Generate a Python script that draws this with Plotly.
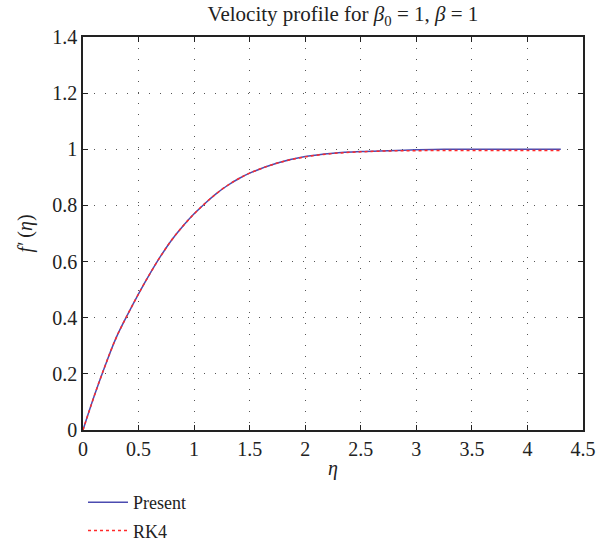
import plotly.graph_objects as go

eta = [0, 0.1, 0.2, 0.3, 0.4, 0.5, 0.6, 0.7, 0.8, 0.9, 1.0, 1.1, 1.2, 1.3,
       1.4, 1.5, 1.75, 2.0, 2.25, 2.5, 2.75, 3.0, 3.25, 3.5, 3.75, 4.0, 4.3]
present = [0, 0.12, 0.23, 0.33, 0.41, 0.485, 0.555, 0.62, 0.678, 0.727,
           0.77, 0.808, 0.842, 0.871, 0.895, 0.915, 0.951, 0.974, 0.986,
           0.992, 0.995, 0.998, 1.0, 1.0, 1.0, 1.0, 1.0]
rk4 = [0, 0.12, 0.23, 0.33, 0.41, 0.485, 0.555, 0.62, 0.678, 0.727,
       0.77, 0.808, 0.842, 0.871, 0.895, 0.915, 0.951, 0.973, 0.985,
       0.991, 0.994, 0.995, 0.996, 0.996, 0.996, 0.996, 0.996]

font = "Liberation Serif, Times New Roman, serif"

W, H = 607, 549
M_L, M_R, M_T, M_B = 83, 24, 37, 0
PLOT_BOTTOM = 430
paper_h = H - M_T - M_B
y_dom0 = (H - M_B - PLOT_BOTTOM) / paper_h

fig = go.Figure()
fig.add_trace(go.Scatter(x=eta, y=present, mode="lines", name="Present", legendgroup="a",
                         line=dict(color="#4b4bb0", width=1.5, shape="spline")))
fig.add_trace(go.Scatter(x=eta, y=rk4, mode="lines", name="RK4", legendgroup="b",
                         line=dict(color="#ff2a2a", width=1.5, dash="dot", shape="spline")))

axis_common = dict(
    showline=True, linecolor="#222", linewidth=1.5, mirror="ticks",
    ticks="inside", ticklen=5, tickcolor="#222", tickwidth=1,
    showgrid=True, gridcolor="#555", griddash="1px,10px", gridwidth=1,
    zeroline=False, automargin=False,
    tickfont=dict(family=font, size=20, color="#222"),
)

fig.update_layout(
    width=W, height=H,
    margin=dict(l=M_L, r=M_R, t=M_T, b=M_B),
    paper_bgcolor="white", plot_bgcolor="white",
    title=dict(text="Velocity profile for <i>β</i><sub>0</sub> = 1, <i>β</i> = 1",
               x=0.565, xanchor="center", y=0.988, yanchor="top",
               font=dict(family=font, size=21, color="#222")),
    xaxis=dict(range=[0, 4.5], dtick=0.5, tick0=0,
               title=dict(text="<i>η</i>", font=dict(family=font, size=20, color="#222"), standoff=2),
               **axis_common),
    yaxis=dict(range=[0, 1.4], dtick=0.2, tick0=0, domain=[y_dom0, 1],
               title=dict(text="<i>f′</i> (<i>η</i>)", font=dict(family=font, size=20, color="#222"), standoff=14),
               **axis_common),
    legend=dict(x=0, y=0, xanchor="left", yanchor="bottom",
                font=dict(family=font, size=18, color="#222"),
                bgcolor="rgba(0,0,0,0)", itemwidth=40, tracegroupgap=2),
    showlegend=True,
)

fig.write_html("out.html", config={"displayModeBar": False},
               post_script="document.body.style.margin='0';")
